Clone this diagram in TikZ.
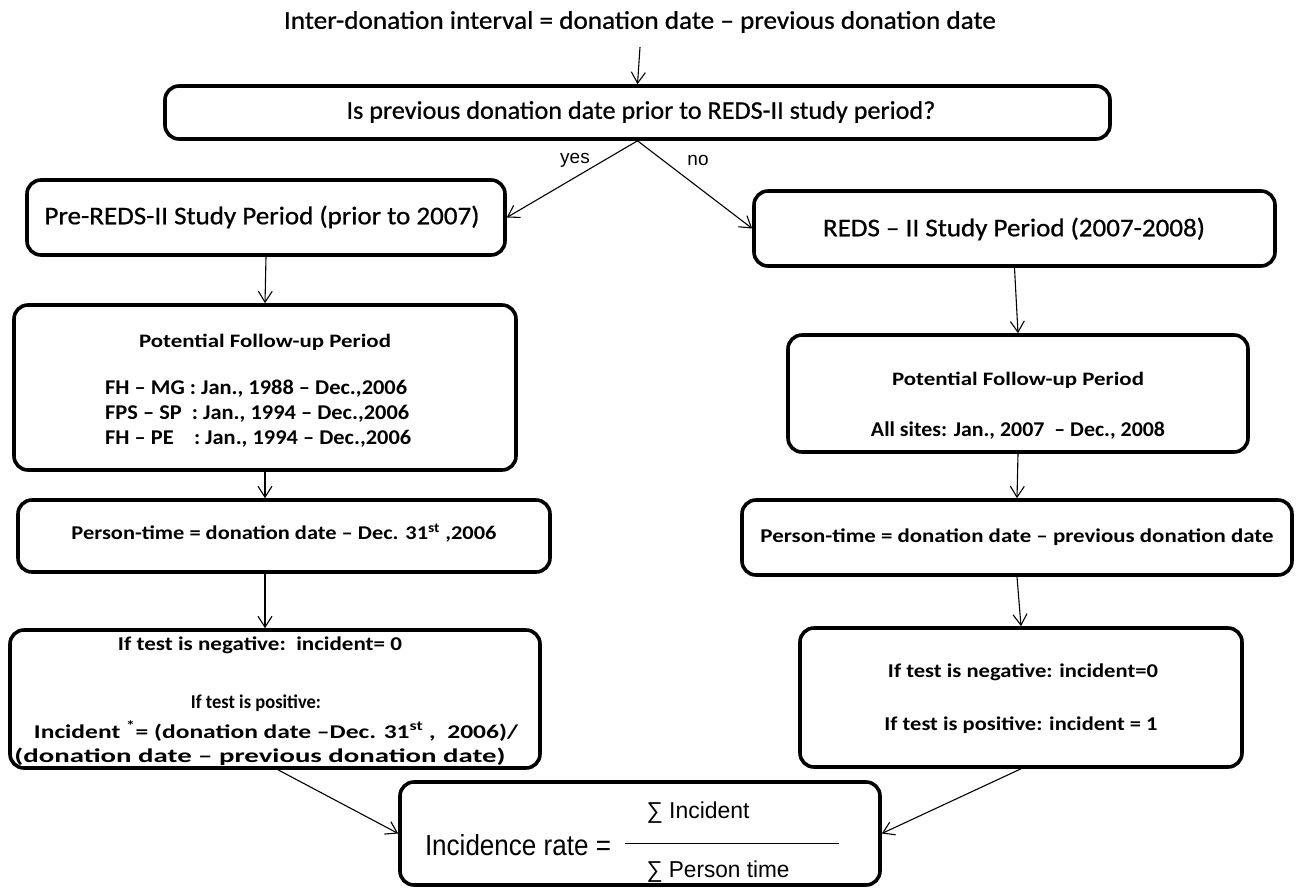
\documentclass[tikz,border=0pt]{standalone}
\usepackage{fontspec}
\setmainfont{Carlito}
\newfontfamily\heavy{Carlito}[FakeBold=0.7]
\newfontfamily\arialf{Liberation Sans}
\usetikzlibrary{arrows.meta,calc}
\newcommand\hfit[2]{\resizebox{#1pt}{\height}{#2}}
\begin{document}
\begin{tikzpicture}[x=1pt,y=-1pt,
  box/.style={draw, line width=3.6pt, rounded corners=14pt, inner sep=0pt},
  conn/.style={-{Straight Barb[length=11pt,width=14pt]}, line width=1.1pt},
  t/.style={inner sep=0pt},
  big/.style={font=\heavy\fontsize{25.5}{30}\selectfont},
  hd/.style={font=\fontsize{19}{23}\selectfont\bfseries},
  mid/.style={font=\fontsize{21}{25}\selectfont\bfseries},
  sm/.style={font=\fontsize{19.5}{23}\selectfont\bfseries},
  ar/.style={font=\arialf\fontsize{29}{33}\selectfont},
  arsm/.style={font=\arialf\fontsize{23}{27}\selectfont},
  lab/.style={font=\arialf\fontsize{19}{22}\selectfont, inner sep=0pt},
]
\useasboundingbox (0,0) rectangle (1296,887);

% boxes
\node[box, minimum width=945, minimum height=53] (q) at (637.5,112.5) {};
\node[box, minimum width=478, minimum height=75] (pre) at (266,217.5) {};
\node[box, minimum width=521, minimum height=75] (reds) at (1014.5,228.5) {};
\node[box, minimum width=502, minimum height=165] (pful) at (265,387.5) {};
\node[box, minimum width=532, minimum height=72] (ptl) at (284,536) {};
\node[box, minimum width=530, minimum height=138] (ifl) at (275,699) {};
\node[box, minimum width=460, minimum height=117] (pfur) at (1018,393.5) {};
\node[box, minimum width=550, minimum height=75] (ptr) at (1017,537.5) {};
\node[box, minimum width=442, minimum height=139] (ifr) at (1021,697.5) {};
\node[box, minimum width=480, minimum height=103] (inc) at (640,833.5) {};

% texts
\node[t,big] (tt) at (640,22) {\hfit{712}{Inter-donation interval = donation date – previous donation date}};
\node[t,big] (qt) at (641,112) {\hfit{589}{Is previous donation date prior to REDS-II study period?}};
\node[t,big] (pret) at (262,217) {\hfit{435}{Pre-REDS-II Study Period (prior to 2007)}};
\node[t,big] (redst) at (1014,229) {\hfit{382}{REDS – II Study Period (2007-2008)}};

\node[t,hd] (pflh) at (265,342) {\hfit{252}{Potential Follow-up Period}};
\node[t,mid,anchor=west] (pfl1) at (105,389) {\hfit{302}{FH – MG : Jan., 1988 – Dec.,2006}};
\node[t,mid,anchor=west] (pfl2) at (105,414) {\hfit{304}{FPS – SP\ \ : Jan., 1994 – Dec.,2006}};
\node[t,mid,anchor=west] (pfl3) at (105,439) {\hfit{306}{FH – PE\ \ \ \ : Jan., 1994 – Dec.,2006}};

\node[t,sm] (ptlt) at (284,533) {\hfit{425}{Person-time = donation date – Dec. 31\textsuperscript{st} ,2006}};

\node[t,sm] (ifl1) at (260,645) {\hfit{284}{If test is negative:\ \ incident= 0}};
\node[t,sm] (ifl2) at (256,703) {\hfit{130}{If test is positive:}};
\node[t,sm] (ifl3) at (276,731) {\hfit{484}{Incident \textsuperscript{*}= (donation date –Dec. 31\textsuperscript{st} ,\ \ 2006)/}};
\node[t,sm] (ifl4) at (260,757) {\hfit{491}{(donation date – previous donation date)}};

\node[t,hd] (pfrh) at (1018,380) {\hfit{252}{Potential Follow-up Period}};
\node[t,mid] (pfr1) at (1018,431) {\hfit{294}{All sites: Jan., 2007\ \ – Dec., 2008}};

\node[t,sm] (ptrt) at (1017,537) {\hfit{513}{Person-time = donation date – previous donation date}};

\node[t,sm] (ifr1) at (1023,672) {\hfit{270}{If test is negative: incident=0}};
\node[t,sm] (ifr2) at (1021,725) {\hfit{273}{If test is positive: incident = 1}};

\node[t,ar] (inct) at (518,845) {\hfit{186}{Incidence rate =}};
\node[t,arsm] (num) at (698,813) {\hfit{103}{∑ Incident}};
\node[t,arsm] (den) at (718,872) {\hfit{143}{∑ Person time}};
\draw[line width=1pt] (625,843) -- (839,843);

\node[lab] (yes) at (575,160) {yes};
\node[lab] (no) at (698,160) {no};

% connectors
\draw[conn] ([yshift=-14pt]tt.south) -- (q.north);
\draw[conn] (q.south) -- (pre.east);
\draw[conn] (q.south) -- (reds.west);
\draw[conn] (pre.south) -- (pful.north);
\draw[conn] (pful.south) -- (pful.south |- ptl.north);
\draw[conn] (ptl.south -| pful.south) -- (pful.south |- ifl.north);
\draw[conn] ([xshift=3pt]ifl.south) -- (inc.west);
\draw[conn] (reds.south) -- (pfur.north);
\draw[conn] (pfur.south) -- (ptr.north);
\draw[conn] (ptr.south) -- (ifr.north);
\draw[conn] (ifr.south) -- (inc.east);
\end{tikzpicture}
\end{document}
